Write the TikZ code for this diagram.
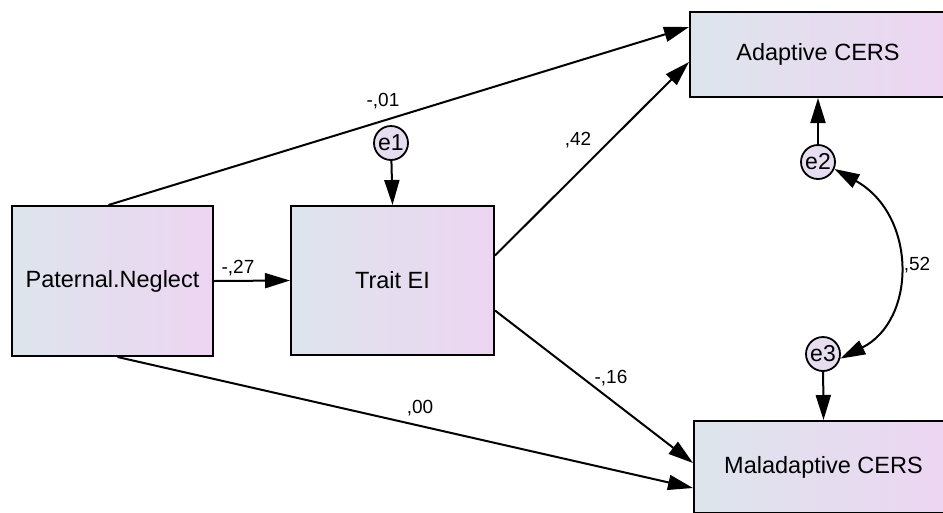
\documentclass[tikz,border=0pt]{standalone}
\usepackage{fontspec}
\setmainfont{Liberation Sans}
\usetikzlibrary{arrows.meta,calc}
\definecolor{boxL}{HTML}{DDE5EC}
\definecolor{boxR}{HTML}{EDD5F2}
\definecolor{errF}{HTML}{E6DDF0}
\begin{document}
\begin{tikzpicture}[x=1pt,y=-1pt,
  varbox/.style={draw=black,line width=2pt,left color=boxL,right color=boxR,inner sep=0pt,font=\fontsize{23.5}{26}\selectfont},
  errc/.style={circle,draw=black,line width=1.8pt,fill=errF,minimum size=34pt,inner sep=0pt,font=\fontsize{23}{24}\selectfont},
  path/.style={line width=2pt,-{Triangle[length=25pt,width=15pt]}},
  lbl/.style={font=\fontsize{19}{21}\selectfont}]
\useasboundingbox (0,0) rectangle (943,512);
\clip (0,0) rectangle (943,512);
\node[varbox,minimum width=201pt,minimum height=150pt] (P) at (112.5,281) {Paternal.Neglect};
\node[varbox,minimum width=203pt,minimum height=149pt] (T) at (392.5,280.5) {Trait EI};
\node[varbox,minimum width=256pt,minimum height=85pt] (A) at (818,54.5) {Adaptive CERS};
\node[varbox,minimum width=259pt,minimum height=92pt] (M) at (823.5,467) {Maladaptive CERS};
\node[errc] (e1) at (391,143) {e1};
\node[errc] (e2) at (818,162) {e2};
\node[errc] (e3) at (823,354) {e3};
\draw[path] ([xshift=-4pt]P.north) -- ([yshift=27.5pt]A.west);
\draw[path] ([xshift=5pt]P.south) -- ([yshift=-21pt]M.west);
\draw[path] (P.east) -- (T.west);
\draw[path] ([yshift=25pt]T.east) -- ([yshift=-7.5pt]A.west);
\draw[path] ([yshift=-30pt]T.east) -- ([yshift=4pt]M.west);
\draw[path] (e1) -- (T.north);
\draw[path] (e2) -- (A.south);
\draw[path] (e3) -- (M.north);
\draw[line width=2pt,{Triangle[length=25pt,width=15pt]}-{Triangle[length=25pt,width=15pt]}] (e2.-23) .. controls (917,215) and (917,320) .. (e3.-15);
\node[lbl] (l1) at (383,101) {-,01};
\node[lbl] (l2) at (578,140) {,42};
\node[lbl] (l3) at (238,268) {-,27};
\node[lbl] (l4) at (917,265) {,52};
\node[lbl] (l5) at (611,378) {-,16};
\node[lbl] (l6) at (420,408) {,00};
\end{tikzpicture}
\end{document}
